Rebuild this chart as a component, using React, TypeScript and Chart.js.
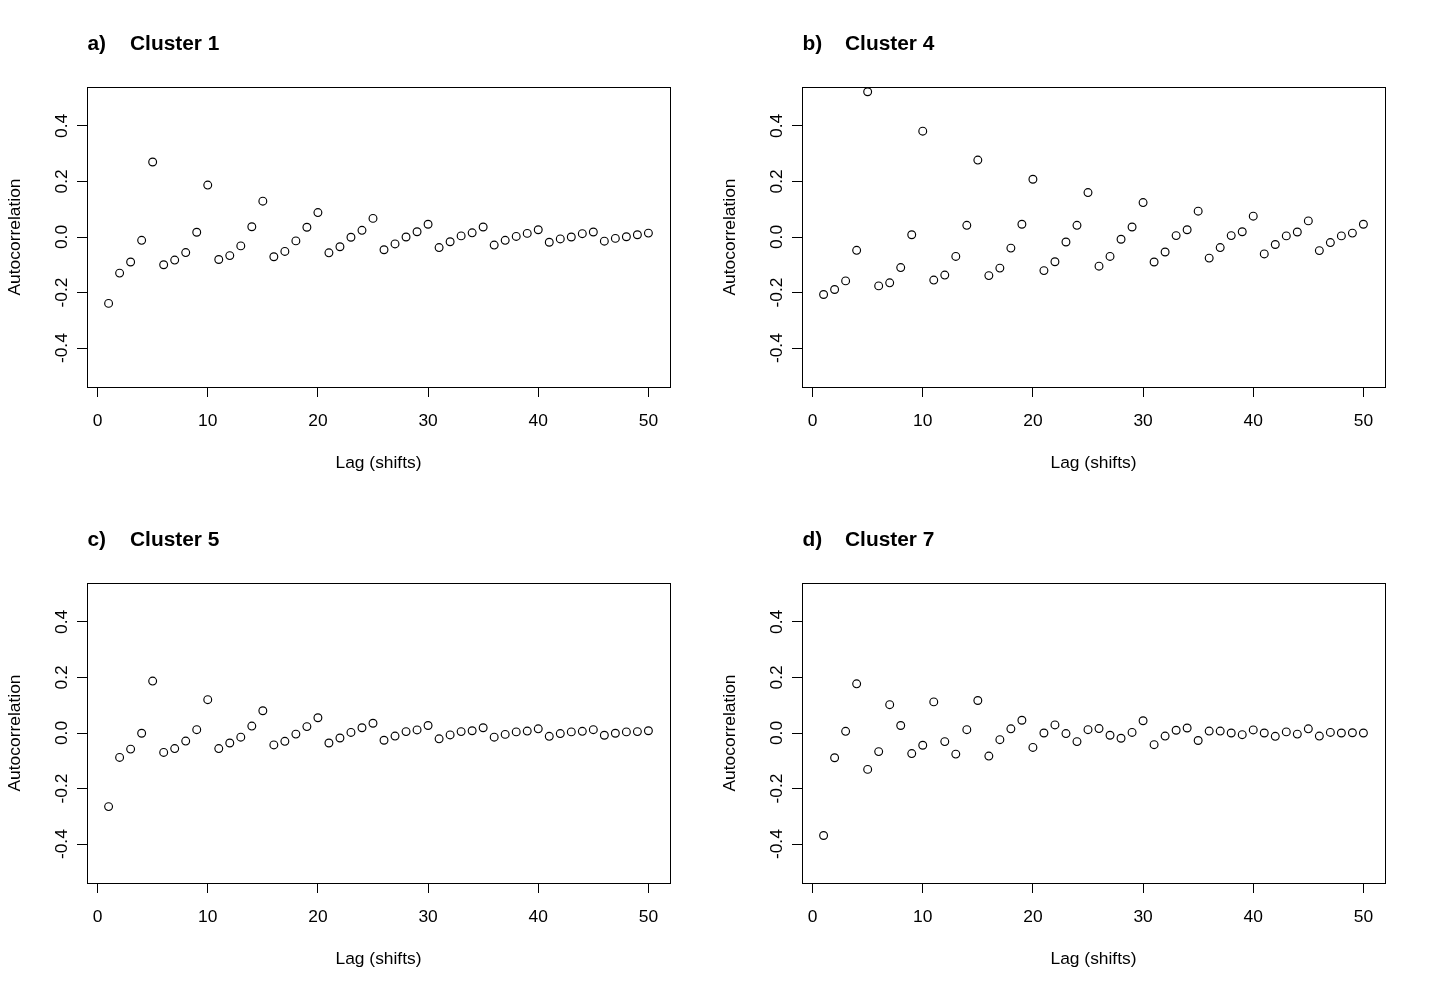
import React, { useEffect, useRef } from "react";
import { Chart, registerables } from "chart.js";

Chart.register(...registerables);

const lags = [
  1, 2, 3, 4, 5, 6, 7, 8, 9, 10, 11, 12, 13, 14, 15, 16, 17, 18, 19, 20, 21, 22, 23, 24, 25,
  26, 27, 28, 29, 30, 31, 32, 33, 34, 35, 36, 37, 38, 39, 40, 41, 42, 43, 44, 45, 46, 47, 48, 49, 50,
];

const cluster1 = [
  -0.239, -0.13, -0.09, -0.012, 0.27, -0.1, -0.083, -0.056, 0.017, 0.187,
  -0.081, -0.067, -0.032, 0.037, 0.129, -0.071, -0.052, -0.014, 0.035, 0.088,
  -0.057, -0.035, -0.001, 0.024, 0.067, -0.046, -0.025, 0.0, 0.019, 0.046,
  -0.038, -0.017, 0.004, 0.015, 0.036, -0.029, -0.012, 0.002, 0.013, 0.026,
  -0.019, -0.007, 0.0, 0.012, 0.018, -0.015, -0.005, 0.001, 0.008, 0.014,
];

const cluster4 = [
  -0.207, -0.189, -0.158, -0.048, 0.523, -0.176, -0.165, -0.11, 0.008, 0.381,
  -0.155, -0.137, -0.07, 0.042, 0.277, -0.139, -0.112, -0.04, 0.046, 0.208,
  -0.121, -0.089, -0.018, 0.042, 0.16, -0.105, -0.07, -0.008, 0.036, 0.124,
  -0.09, -0.054, 0.005, 0.026, 0.093, -0.076, -0.038, 0.005, 0.019, 0.075,
  -0.061, -0.027, 0.004, 0.018, 0.058, -0.049, -0.02, 0.004, 0.014, 0.046,
];

const cluster5 = [
  -0.265, -0.088, -0.058, -0.001, 0.187, -0.07, -0.056, -0.029, 0.012, 0.12,
  -0.056, -0.036, -0.015, 0.025, 0.08, -0.043, -0.03, -0.004, 0.023, 0.055,
  -0.036, -0.018, 0.002, 0.019, 0.035, -0.026, -0.011, 0.005, 0.011, 0.027,
  -0.021, -0.007, 0.005, 0.008, 0.019, -0.015, -0.005, 0.004, 0.007, 0.015,
  -0.012, -0.002, 0.004, 0.006, 0.012, -0.008, -0.001, 0.004, 0.005, 0.008,
];

const cluster7 = [
  -0.369, -0.089, 0.006, 0.177, -0.131, -0.067, 0.102, 0.027, -0.074, -0.044,
  0.112, -0.031, -0.076, 0.012, 0.117, -0.083, -0.024, 0.015, 0.046, -0.052,
  0.0, 0.029, -0.002, -0.031, 0.012, 0.016, -0.008, -0.019, 0.002, 0.044,
  -0.042, -0.011, 0.01, 0.018, -0.027, 0.007, 0.007, 0.0, -0.006, 0.011,
  0.0, -0.012, 0.004, -0.004, 0.015, -0.011, 0.002, 0.0, 0.001, 0.0,
];

const xTicks = [0, 10, 20, 30, 40, 50];
const yTicks = [-0.4, -0.2, 0.0, 0.2, 0.4];
const panelLetters = ["a)", "b)", "c)", "d)"];
const panelNames = ["Cluster 1", "Cluster 4", "Cluster 5", "Cluster 7"];
const panelSeries = [cluster1, cluster4, cluster5, cluster7];
const xTitle = "Lag (shifts)";
const yTitle = "Autocorrelation";

const FONT = '"Liberation Sans", Arial, Helvetica, sans-serif';
const W = 715;
const H = 496;

const boxAndTitle = {
  id: "rbox",
  afterDraw(chart: any, _args: any, opts: any) {
    const { ctx, chartArea } = chart;
    const { left, top, right, bottom } = chartArea;
    ctx.save();
    ctx.strokeStyle = "#000";
    ctx.lineWidth = 1;
    ctx.strokeRect(Math.round(left) + 0.5, Math.round(top) + 0.5, Math.round(right - left), Math.round(bottom - top));
    ctx.fillStyle = "#000";
    ctx.font = `bold 20.9px ${FONT}`;
    ctx.textBaseline = "alphabetic";
    ctx.textAlign = "left";
    ctx.fillText(opts.letter, left + 0.5, 50);
    ctx.fillText(opts.name, left + 43, 50);
    ctx.restore();
  },
};

function Panel({ index }: { index: number }) {
  const ref = useRef<HTMLCanvasElement>(null);
  useEffect(() => {
    const canvas = ref.current!;
    const values = panelSeries[index];
    const chart = new Chart(canvas, {
      type: "scatter",
      data: {
        datasets: [
          {
            data: lags.map((l, i) => ({ x: l, y: values[i] })),
            pointRadius: 3.9,
            pointBorderWidth: 1.15,
            pointBorderColor: "#000",
            pointBackgroundColor: "rgba(0,0,0,0)",
            showLine: false,
          } as any,
        ],
      },
      options: {
        animation: false,
        responsive: false,
        devicePixelRatio: 1,
        layout: { padding: { top: 87, right: 45, bottom: 0, left: 0 } },
        plugins: {
          legend: { display: false },
          tooltip: { enabled: false },
          rbox: { letter: panelLetters[index], name: panelNames[index] },
        } as any,
        scales: {
          x: {
            type: "linear",
            min: -0.96,
            max: 51.96,
            afterBuildTicks: (s: any) => {
              s.ticks = xTicks.map((v) => ({ value: v }));
            },
            afterFit: (s: any) => {
              s.height = 109;
            },
            grid: {
              display: true,
              drawOnChartArea: false,
              drawTicks: true,
              tickLength: 10,
              color: "#000",
              lineWidth: 1,
            },
            border: { display: false },
            ticks: {
              color: "#000",
              font: { family: FONT, size: 17.4 },
              padding: 13.6,
              maxRotation: 0,
              autoSkip: false,
              callback: (v: any) => String(v),
            },
            title: {
              display: true,
              text: xTitle,
              color: "#000",
              font: { family: FONT, size: 17.4 },
              padding: { top: 0, bottom: 22.8 },
            },
          },
          y: {
            type: "linear",
            min: -0.54,
            max: 0.54,
            afterBuildTicks: (s: any) => {
              s.ticks = yTicks.map((v) => ({ value: v }));
            },
            afterFit: (s: any) => {
              s.width = 87;
            },
            grid: {
              display: true,
              drawOnChartArea: false,
              drawTicks: true,
              tickLength: 10,
              color: "#000",
              lineWidth: 1,
            },
            border: { display: false },
            ticks: {
              color: "#000",
              font: { family: FONT, size: 17.4 },
              padding: 0,
              minRotation: 90,
              maxRotation: 90,
              crossAlign: "center",
              autoSkip: false,
              callback: (v: any) => Number(v).toFixed(1),
            },
            title: {
              display: true,
              text: yTitle,
              color: "#000",
              font: { family: FONT, size: 17.4 },
              padding: { top: 5, bottom: 0 },
            },
          },
        },
      } as any,
      plugins: [boxAndTitle as any],
    });
    return () => chart.destroy();
  }, [index]);
  return (
    <canvas
      ref={ref}
      width={W}
      height={H}
      style={{
        position: "absolute",
        left: (index % 2) * W,
        top: Math.floor(index / 2) * H,
        width: W,
        height: H,
        display: "block",
      }}
    />
  );
}

export default function App() {
  return (
    <div style={{ position: "absolute", left: 0, top: 0, width: 1430, height: 992, background: "#fff" }}>
      {[0, 1, 2, 3].map((i) => (
        <Panel key={i} index={i} />
      ))}
    </div>
  );
}
